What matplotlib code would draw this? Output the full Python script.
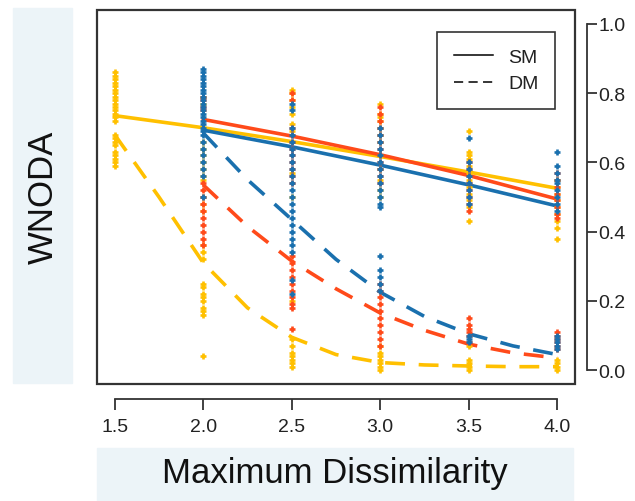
import matplotlib
matplotlib.use('Agg')
import matplotlib.pyplot as plt
from matplotlib.lines import Line2D
from matplotlib.patches import Rectangle

plt.rcParams['font.family'] = ['Liberation Sans', 'DejaVu Sans']

BLUE = '#1a70ae'
RED = '#ff4a1a'
YELLOW = '#ffc000'

# fitted curves (SM solid, DM dashed)
sm_x_yellow = [1.5, 2.0, 2.5, 3.0, 3.5, 4.0]
sm_yellow = [0.735, 0.70, 0.66, 0.617, 0.572, 0.525]
sm_x = [2.0, 2.5, 3.0, 3.5, 4.0]
sm_red = [0.724, 0.676, 0.622, 0.562, 0.494]
sm_blue = [0.693, 0.645, 0.592, 0.535, 0.474]

dm_x_yellow = [1.5, 1.75, 2.0, 2.25, 2.5, 2.75, 3.0, 3.25, 3.5, 3.75, 4.0]
dm_yellow = [0.68, 0.50, 0.31, 0.18, 0.095, 0.045, 0.022, 0.015, 0.012, 0.010, 0.010]
dm_x = [2.0, 2.25, 2.5, 2.75, 3.0, 3.25, 3.5, 3.75, 4.0]
dm_red = [0.535, 0.415, 0.315, 0.235, 0.165, 0.115, 0.075, 0.050, 0.035]
dm_blue = [0.685, 0.55, 0.435, 0.32, 0.225, 0.155, 0.105, 0.070, 0.045]

# observed points per level
pts_yellow = {
    1.5: [0.86, 0.85, 0.84, 0.83, 0.82, 0.81, 0.80, 0.79, 0.78, 0.77, 0.76, 0.75,
          0.74, 0.73, 0.72, 0.68, 0.67, 0.66, 0.65, 0.63, 0.62, 0.61, 0.60, 0.59],
    2.0: [0.79, 0.77, 0.66, 0.64, 0.62, 0.60, 0.58, 0.56, 0.55, 0.50, 0.48, 0.46,
          0.36, 0.34, 0.32, 0.25, 0.24, 0.22, 0.21, 0.20, 0.18, 0.17, 0.16, 0.04],
    2.5: [0.81, 0.80, 0.78, 0.76, 0.74, 0.71, 0.69, 0.57, 0.50, 0.20, 0.09, 0.07,
          0.05, 0.04, 0.03, 0.02, 0.01],
    3.0: [0.77, 0.74, 0.73, 0.72, 0.70, 0.68, 0.66, 0.62, 0.58, 0.55, 0.52, 0.50,
          0.07, 0.05, 0.04, 0.03, 0.02, 0.01, 0.0],
    3.5: [0.69, 0.63, 0.62, 0.61, 0.59, 0.57, 0.55, 0.53, 0.51, 0.49, 0.47, 0.43,
          0.07, 0.03, 0.02, 0.01, 0.0],
    4.0: [0.55, 0.53, 0.51, 0.49, 0.47, 0.45, 0.43, 0.41, 0.38, 0.03, 0.02, 0.01, 0.0],
}
pts_red = {
    2.0: [0.79, 0.78, 0.76, 0.75, 0.54, 0.52, 0.50, 0.48, 0.46, 0.44, 0.42, 0.40,
          0.38, 0.36],
    2.5: [0.80, 0.78, 0.70, 0.68, 0.66, 0.64, 0.62, 0.60, 0.58, 0.56, 0.54, 0.33,
          0.31, 0.29, 0.27, 0.25, 0.23, 0.21, 0.19, 0.18, 0.12],
    3.0: [0.76, 0.74, 0.72, 0.70, 0.68, 0.66, 0.64, 0.62, 0.60, 0.58, 0.56, 0.54,
          0.25, 0.23, 0.21, 0.19, 0.17, 0.15, 0.13, 0.11, 0.09, 0.07],
    3.5: [0.60, 0.58, 0.56, 0.54, 0.52, 0.50, 0.48, 0.46, 0.15, 0.13, 0.12, 0.11,
          0.10, 0.08],
    4.0: [0.57, 0.55, 0.53, 0.51, 0.49, 0.47, 0.45, 0.44, 0.11, 0.10, 0.09, 0.08,
          0.07, 0.06],
}
pts_blue = {
    2.0: [0.87, 0.86, 0.85, 0.84, 0.83, 0.82, 0.81, 0.80, 0.79, 0.78, 0.77, 0.76,
          0.75, 0.74, 0.73, 0.72, 0.71, 0.70, 0.69, 0.68, 0.66, 0.64, 0.62, 0.60,
          0.58, 0.56, 0.50],
    2.5: [0.77, 0.75, 0.70, 0.68, 0.66, 0.64, 0.62, 0.60, 0.58, 0.56, 0.54, 0.52,
          0.50, 0.48, 0.46, 0.44, 0.42, 0.40, 0.38, 0.36, 0.34, 0.26, 0.22],
    3.0: [0.70, 0.68, 0.66, 0.64, 0.62, 0.60, 0.58, 0.56, 0.54, 0.52, 0.50, 0.48,
          0.47, 0.33, 0.29, 0.27, 0.25, 0.23],
    3.5: [0.67, 0.60, 0.58, 0.56, 0.54, 0.52, 0.50, 0.48, 0.10, 0.09, 0.08],
    4.0: [0.63, 0.59, 0.57, 0.55, 0.54, 0.52, 0.50, 0.48, 0.46, 0.10, 0.09, 0.08,
          0.07, 0.06],
}

x_ticks = [1.5, 2.0, 2.5, 3.0, 3.5, 4.0]
x_ticklabels = ['1.5', '2.0', '2.5', '3.0', '3.5', '4.0']
y_ticks = [0.0, 0.2, 0.4, 0.6, 0.8, 1.0]
y_ticklabels = ['0.0', '0.2', '0.4', '0.6', '0.8', '1.0']

W, H = 635, 502
fig = plt.figure(figsize=(W / 100, H / 100), dpi=100)
ax = fig.add_axes([97 / W, 1 - 385 / H, (575 - 97) / W, (385 - 11) / H])

# grey label panels
fig.patches.append(Rectangle((13 / W, 1 - 384 / H), 59 / W, 375 / H,
                             transform=fig.transFigure, color='#ecf4f8', zorder=0))
fig.patches.append(Rectangle((97 / W, 0), 476 / W, (502 - 449) / H,
                             transform=fig.transFigure, color='#ecf4f8', zorder=0))
fig.text(43 / W, 1 - 197 / H, 'WNODA', rotation=90, fontsize=25,
         ha='center', va='center', color='#111')
fig.text(335 / W, 1 - 474 / H, 'Maximum Dissimilarity', fontsize=25,
         ha='center', va='center', color='#111')

lw = 2.6
ax.plot(sm_x_yellow, sm_yellow, color=YELLOW, lw=lw, zorder=2)
ax.plot(sm_x, sm_red, color=RED, lw=lw, zorder=2)
ax.plot(sm_x, sm_blue, color=BLUE, lw=lw, zorder=2)
for xs, ys, c in [(dm_x_yellow, dm_yellow, YELLOW), (dm_x, dm_red, RED), (dm_x, dm_blue, BLUE)]:
    ax.plot(xs, ys, color=c, lw=lw, dashes=(5.5, 3.8), zorder=2)

for pts, c in [(pts_yellow, YELLOW), (pts_red, RED), (pts_blue, BLUE)]:
    for x, ys in pts.items():
        ax.plot([x] * len(ys), ys, ls='none', marker='+', ms=4.5, mew=1.9,
                color=c, zorder=3)

ax.set_xlim(1.4, 4.1)
ax.set_ylim(-0.04, 1.04)

# box
ax.add_patch(Rectangle((0, 0), 1, 1, transform=ax.transAxes, fill=False,
                       lw=1.6, ec='#333', clip_on=False, zorder=5))

# R-style axes
for s in ['top', 'left']:
    ax.spines[s].set_visible(False)
ax.spines['right'].set_position(('outward', 8.6))
ax.spines['right'].set_bounds(0, 1)
ax.spines['bottom'].set_position(('outward', 10.8))
ax.spines['bottom'].set_bounds(1.5, 4.0)
for s in ['right', 'bottom']:
    ax.spines[s].set_linewidth(1.3)
    ax.spines[s].set_color('#333')
ax.yaxis.tick_right()
ax.set_xticks(x_ticks, x_ticklabels)
ax.set_yticks(y_ticks, y_ticklabels)
ax.tick_params(axis='x', length=8, width=1.3, color='#333', pad=6,
               labelsize=14, labelcolor='#222')
ax.tick_params(axis='y', length=7, width=1.3, color='#333', pad=1,
               labelsize=14, labelcolor='#222')

handles = [Line2D([], [], color='black', lw=1.1),
           Line2D([], [], color='black', lw=1.1, dashes=(6, 3.5))]
leg = ax.legend(handles, ['SM', 'DM'], loc='upper right',
                bbox_to_anchor=((555 - 97) / 478, (385 - 33) / 374),
                borderaxespad=0, fontsize=14, handlelength=2.0,
                handletextpad=0.8, labelspacing=0.45, borderpad=0.85,
                fancybox=False, framealpha=1)
leg.get_frame().set_edgecolor('#333')
leg.get_frame().set_linewidth(1.2)
for t in leg.get_texts():
    t.set_color('#222')

fig.savefig('out.png', dpi=100)
